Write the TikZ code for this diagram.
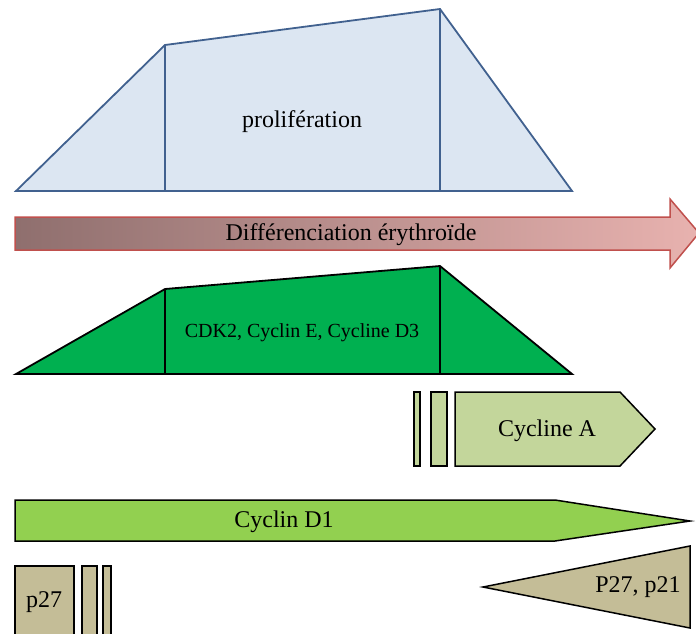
\documentclass[tikz,border=0pt]{standalone}
\usepackage{fontspec}
\setmainfont{Liberation Serif}
\usetikzlibrary{shadings}
\definecolor{profill}{HTML}{DCE6F2}
\definecolor{proline}{HTML}{41618F}
\definecolor{cdkfill}{HTML}{00B050}
\definecolor{cycAfill}{HTML}{C3D69B}
\definecolor{cycDfill}{HTML}{92D050}
\definecolor{pfill}{HTML}{C4BD97}
\definecolor{arrline}{HTML}{C0504D}
\definecolor{arrleft}{HTML}{8F6F6E}
\definecolor{arrright}{HTML}{E8B2AF}
\tikzset{
  lbl/.style={font=\fontsize{24}{26}\selectfont, inner sep=0pt},
  blk/.style={draw=black, line width=1.8pt, line join=miter},
}
\begin{document}
\begin{tikzpicture}[x=1pt,y=-1pt]
\useasboundingbox (0,0) rectangle (696,633);
% proliferation profile
\draw[fill=profill, draw=proline, line width=1.8pt]
  (16,191) -- (165,45) -- (440,9) -- (572,191) -- cycle;
\draw[draw=proline, line width=1.8pt] (165,45) -- (165,191) (440,9) -- (440,191);
\node[lbl] (prolif) at (302,122) {prolifération};
% differentiation arrow
\shade[left color=arrleft, right color=arrright, draw=arrline, line width=1.5pt]
  (15,217) -- (670,217) -- (670,199) -- (699,233) -- (670,268) -- (670,250) -- (15,250) -- cycle;
\node[lbl] (diff) at (351,235) {Différenciation érythroïde};
% CDK2 / cyclin E / cyclin D3 profile
\draw[blk, fill=cdkfill] (16,374) -- (165,289) -- (440,266) -- (572,374) -- cycle;
\draw[blk] (165,289) -- (165,374) (440,266) -- (440,374);
\node[font=\fontsize{20}{22}\selectfont, inner sep=0pt] (cdk) at (302,333) {CDK2, Cyclin E, Cycline D3};
% cyclin A
\draw[blk, line width=1.5pt, fill=cycAfill] (414,392) rectangle (420,466);
\draw[blk, line width=1.5pt, fill=cycAfill] (431,392) rectangle (447,466);
\draw[blk, line width=1.5pt, fill=cycAfill] (455,392) -- (620,392) -- (655,429) -- (620,466) -- (455,466) -- cycle;
\node[lbl] (cycA) at (547,431) {Cycline A};
% cyclin D1
\draw[blk, line width=1.5pt, fill=cycDfill] (15,500) -- (555,500) -- (690,521) -- (555,541) -- (15,541) -- cycle;
\node[lbl] (cycD) at (284,522) {Cyclin D1};
% p27 at the start
\draw[blk, line width=1.5pt, fill=pfill] (15,566) rectangle (74,640);
\draw[blk, line width=1.5pt, fill=pfill] (82,566) rectangle (97,640);
\draw[blk, line width=1.5pt, fill=pfill] (103,566) rectangle (111,640);
\node[lbl] (p27) at (44,602) {p27};
% p27, p21 at the end
\draw[blk, line width=1.5pt, fill=pfill] (483,587) -- (690,546) -- (690,628) -- cycle;
\node[lbl] (p27p21) at (638,587) {P27, p21};
\end{tikzpicture}
\end{document}
